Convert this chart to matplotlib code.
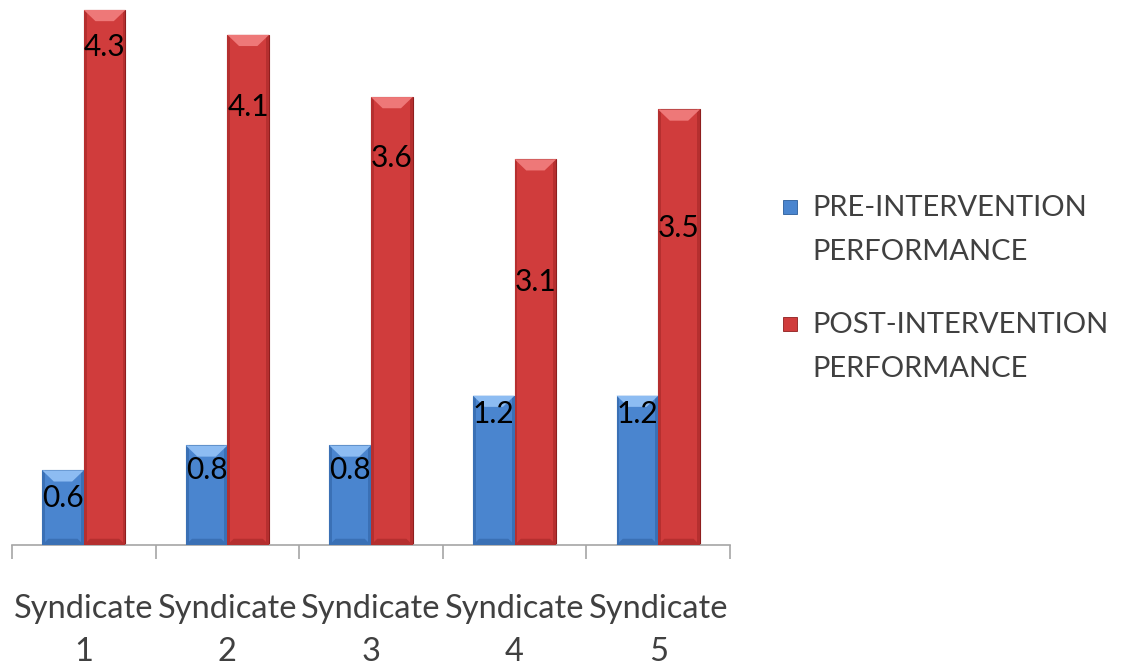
import matplotlib.pyplot as plt
from matplotlib.patches import Polygon, Rectangle
import numpy as np

plt.rcParams['font.family'] = ['Lato', 'DejaVu Sans']

categories = ['Syndicate\n1', 'Syndicate\n2', 'Syndicate\n3', 'Syndicate\n4', 'Syndicate\n5']
pre = [0.6, 0.8, 0.8, 1.2, 1.2]
post = [4.3, 4.1, 3.6, 3.1, 3.5]
series_names = ['PRE-INTERVENTION\nPERFORMANCE', 'POST-INTERVENTION\nPERFORMANCE']

# where the value labels sit (data units), they were dragged around by hand
pre_label_y = [0.38, 0.60, 0.60, 1.05, 1.05]
post_label_y = [4.00, 3.52, 3.11, 2.11, 2.55]

blue = dict(face='#4A85CF', light='#8DBCF2', dark='#2A5C9A', shade='#3A70B5')
red = dict(face='#D03C3C', light='#EE7878', dark='#8E1E1E', shade='#B52F2F')

fig = plt.figure(figsize=(11.22, 6.70), dpi=100)
ax = fig.add_axes([0.0107, 0.1866, 0.6399, 0.8134])

x = np.arange(len(categories))
w = 0.29


def bevel_bars(bars, c):
    # excel style bevel: light top wedge, dark sides, darker foot
    for b in bars:
        x0, y0 = b.get_x(), b.get_y()
        bw, bh = b.get_width(), b.get_height()
        top = y0 + bh
        d = 0.09
        ax.add_patch(Rectangle((x0, y0), bw * 0.07, bh, facecolor=c['shade'],
                               edgecolor='none', zorder=3))
        ax.add_patch(Rectangle((x0 + bw * 0.93, y0), bw * 0.07, bh, facecolor=c['shade'],
                               edgecolor='none', zorder=3))
        ax.add_patch(Polygon([(x0, top), (x0 + bw, top), (x0 + bw * 0.72, top - d),
                              (x0 + bw * 0.28, top - d)], closed=True,
                             facecolor=c['light'], edgecolor='none', zorder=3))
        ax.add_patch(Polygon([(x0, y0), (x0 + bw, y0), (x0 + bw * 0.85, y0 + 0.05),
                              (x0 + bw * 0.15, y0 + 0.05)], closed=True,
                             facecolor=c['shade'], edgecolor='none', zorder=3))


b1 = ax.bar(x - w / 2, pre, w, color=blue['face'], edgecolor=blue['dark'], linewidth=0.8, zorder=2)
b2 = ax.bar(x + w / 2, post, w, color=red['face'], edgecolor=red['dark'], linewidth=0.8, zorder=2)
bevel_bars(b1, blue)
bevel_bars(b2, red)

for xi, v, ly in zip(x, pre, pre_label_y):
    ax.text(xi - w / 2, ly, f'{v:.1f}', ha='center', va='center', fontsize=21.5, color='black', zorder=5)
for xi, v, ly in zip(x, post, post_label_y):
    ax.text(xi + w / 2, ly, f'{v:.1f}', ha='center', va='center', fontsize=21.5, color='black', zorder=5)

ax.set_xlim(-0.5, len(categories) - 0.5)
ax.set_ylim(0, 4.38)
ax.set_yticks([])
for s in ['top', 'right', 'left']:
    ax.spines[s].set_visible(False)
ax.spines['bottom'].set_color('#A6A6A6')
ax.spines['bottom'].set_linewidth(1.2)

# ticks sit on the category boundaries, labels in the middle
ax.set_xticks(np.arange(len(categories) + 1) - 0.5)
ax.set_xticklabels([])
ax.tick_params(axis='x', length=10, width=1.2, color='#A6A6A6', direction='out')
for xi, lab in zip(x, categories):
    ax.annotate(lab, xy=(xi, 0), xycoords=('data', 'axes fraction'),
                xytext=(0, -35), textcoords='offset points', ha='center', va='top',
                fontsize=23.5, color='#404040', linespacing=1.55, annotation_clip=False)

# legend drawn by hand so the marker lines up with the first text row
for i, (name, c) in enumerate(zip(series_names, [blue, red])):
    yc = 1 - (207 + 117 * i) / 670
    fig.add_artist(Rectangle((783 / 1122, yc - 7 / 670), 14 / 1122, 14 / 670,
                             transform=fig.transFigure, facecolor=c['face'],
                             edgecolor=c['dark'], linewidth=0.6))
    fig.text(812 / 1122, yc + 12 / 670, name, ha='left', va='top', fontsize=21,
             color='#404040', linespacing=1.85)

fig.savefig('out.png', dpi=100)
